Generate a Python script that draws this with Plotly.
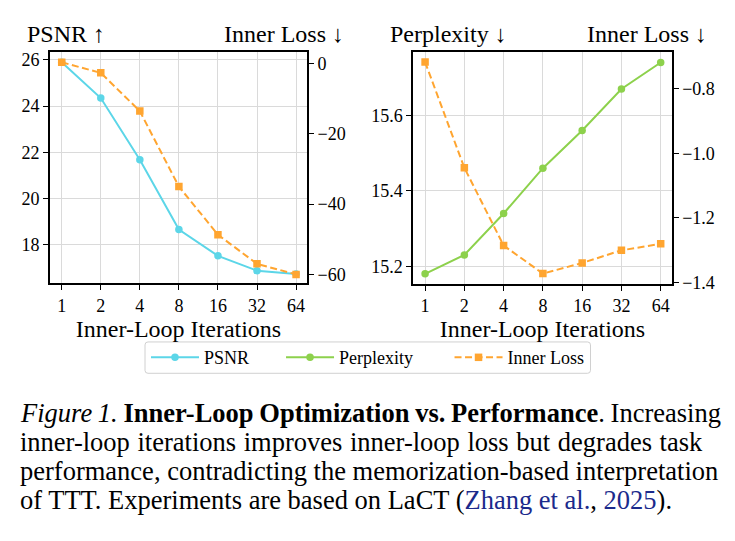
import plotly.graph_objects as go

# ---------------- data ----------------
iters = ["1", "2", "4", "8", "16", "32", "64"]
psnr = [25.9, 24.35, 21.68, 18.67, 17.53, 16.89, 16.75]
inner_loss_nvs = [0.4, -2.6, -13.5, -35.0, -48.7, -57.0, -60.0]
perplexity = [15.18, 15.23, 15.34, 15.46, 15.56, 15.67, 15.74]
inner_loss_lm = [-0.718, -1.045, -1.285, -1.372, -1.339, -1.30, -1.28]

psnr_ticks = [18, 20, 22, 24, 26]
loss_nvs_ticks = [-60, -40, -20, 0]
ppl_ticks = [15.2, 15.4, 15.6]
loss_lm_ticks = [-1.4, -1.2, -1.0, -0.8]

# ---------------- style ----------------
W, H = 735, 541
FONT = "Liberation Serif"
C_PSNR = "#5CD6E8"
C_PPL = "#8DD14C"
C_LOSS = "#FFA530"
GRID = "#DADADA"
NB = "\u00a0"

def px_x(p):
    return p / W

def px_y(p):
    return 1 - p / H

fig = go.Figure()

fig.add_trace(go.Scatter(
    x=iters, y=psnr, name="PSNR" + NB * 6, mode="lines+markers",
    line=dict(color=C_PSNR, width=2),
    marker=dict(symbol="circle", size=7.5, color=C_PSNR),
    xaxis="x", yaxis="y"))
fig.add_trace(go.Scatter(
    x=iters, y=perplexity, name="Perplexity" + NB * 7, mode="lines+markers",
    line=dict(color=C_PPL, width=2),
    marker=dict(symbol="circle", size=7.5, color=C_PPL),
    xaxis="x2", yaxis="y3"))
fig.add_trace(go.Scatter(
    x=iters, y=inner_loss_nvs, name="Inner Loss", mode="lines+markers",
    line=dict(color=C_LOSS, width=2, dash="7px,3.5px"),
    marker=dict(symbol="square", size=7.5, color=C_LOSS),
    xaxis="x", yaxis="y2"))
fig.add_trace(go.Scatter(
    x=iters, y=inner_loss_lm, name="Inner Loss", mode="lines+markers",
    line=dict(color=C_LOSS, width=2, dash="7px,3.5px"),
    marker=dict(symbol="square", size=7.5, color=C_LOSS),
    showlegend=False,
    xaxis="x2", yaxis="y4"))

tickfont = dict(family=FONT, size=18, color="black")
common_axis = dict(
    showline=True, linecolor="black", linewidth=1.8, mirror=True,
    ticks="outside", ticklen=5, tickwidth=1.3, tickcolor="black",
    tickfont=tickfont, zeroline=False,
)

ydom_l = [px_y(287), px_y(51)]
ydom_r = [px_y(287.5), px_y(51)]

fig.update_layout(
    width=W, height=H,
    margin=dict(l=0, r=0, t=0, b=0),
    paper_bgcolor="white", plot_bgcolor="white",
    font=dict(family=FONT, color="black"),
    xaxis=dict(
        domain=[px_x(50), px_x(307)], anchor="y", type="category",
        range=[-0.3, 6.28], showgrid=True, gridcolor=GRID, gridwidth=1.3,
        title=dict(text="Inner-Loop Iterations", font=dict(family=FONT, size=24), standoff=2),
        **common_axis),
    yaxis=dict(
        domain=ydom_l, anchor="x", range=[16.35, 26.34], tickvals=psnr_ticks,
        showgrid=True, gridcolor=GRID, gridwidth=1.3, **common_axis),
    yaxis2=dict(
        overlaying="y", side="right", anchor="x", range=[-62.5, 3.35],
        tickvals=loss_nvs_ticks, showgrid=False, **common_axis),
    xaxis2=dict(
        domain=[px_x(413.3), px_x(671.7)], anchor="y3", type="category",
        range=[-0.3, 6.28], showgrid=True, gridcolor=GRID, gridwidth=1.3,
        title=dict(text="Inner-Loop Iterations", font=dict(family=FONT, size=24), standoff=2),
        **common_axis),
    yaxis3=dict(
        domain=ydom_r, anchor="x2", range=[15.154, 15.768], tickvals=ppl_ticks,
        tickformat=".1f", showgrid=True, gridcolor=GRID, gridwidth=1.3, **common_axis),
    yaxis4=dict(
        overlaying="y3", side="right", anchor="x2", range=[-1.403, -0.687],
        tickvals=loss_lm_ticks, tickformat=".1f", showgrid=False, **common_axis),
    showlegend=True,
    legend=dict(
        orientation="h", x=px_x(146), xanchor="left", y=px_y(363), yanchor="middle",
        font=dict(family=FONT, size=18), borderwidth=0,
        bgcolor="rgba(0,0,0,0)", itemwidth=48, tracegroupgap=0),
)

# legend frame (light rounded box), in paper units
def P(xp, yp):
    return f"{px_x(xp):.5f},{px_y(yp):.5f}"

x0, x1, y0, y1, r = 145, 590.5, 347, 379, 3
path_paper = (f"M{P(x0 + r, y0)} L{P(x1 - r, y0)} Q{P(x1, y0)} {P(x1, y0 + r)} "
              f"L{P(x1, y1 - r)} Q{P(x1, y1)} {P(x1 - r, y1)} L{P(x0 + r, y1)} "
              f"Q{P(x0, y1)} {P(x0, y1 - r)} L{P(x0, y0 + r)} Q{P(x0, y0)} {P(x0 + r, y0)} Z")
fig.add_shape(type="path", xref="paper", yref="paper", path=path_paper,
              line=dict(color="#D0D0D0", width=1), fillcolor="rgba(0,0,0,0)")

title_font = dict(family=FONT, size=24, color="black")
ann = [
    dict(text="PSNR ↑", x=px_x(25), xanchor="left", y=px_y(33)),
    dict(text="Inner Loss ↓", x=px_x(346), xanchor="right", y=px_y(33)),
    dict(text="Perplexity ↓", x=px_x(388), xanchor="left", y=px_y(33)),
    dict(text="Inner Loss ↓", x=px_x(709), xanchor="right", y=px_y(33)),
]
for a in ann:
    fig.add_annotation(xref="paper", yref="paper", yanchor="middle",
                       showarrow=False, font=title_font, **a)

CAP_SIZE = 26.5
BLUE = "#1B2A8C"
caption_lines = [
    "<i>Figure 1.</i> <b>Inner-Loop Optimization vs. Performance</b>. Increasing",
    "inner-loop iterations improves inner-loop loss but degrades task",
    "performance, contradicting the memorization-based interpretation",
    f"of TTT. Experiments are based on LaCT (<span style='color:{BLUE}'>Zhang et al.</span>, "
    f"<span style='color:{BLUE}'>2025</span>).",
]
word_spacing = [-0.9, 1.0, 0.0, 0.0]
caption_baseline = [428.5, 458, 487.5, 517]
for line, ws, base in zip(caption_lines, word_spacing, caption_baseline):
    txt = f"<span style='word-spacing:{ws}px'>{line}</span>" if ws else line
    fig.add_annotation(text=txt, xref="paper", yref="paper",
                       x=px_x(17.5), xanchor="left",
                       y=px_y(base - 0.3375 * CAP_SIZE), yanchor="middle",
                       showarrow=False,
                       font=dict(family=FONT, size=CAP_SIZE, color="black"))

fig.write_html("out.html")
